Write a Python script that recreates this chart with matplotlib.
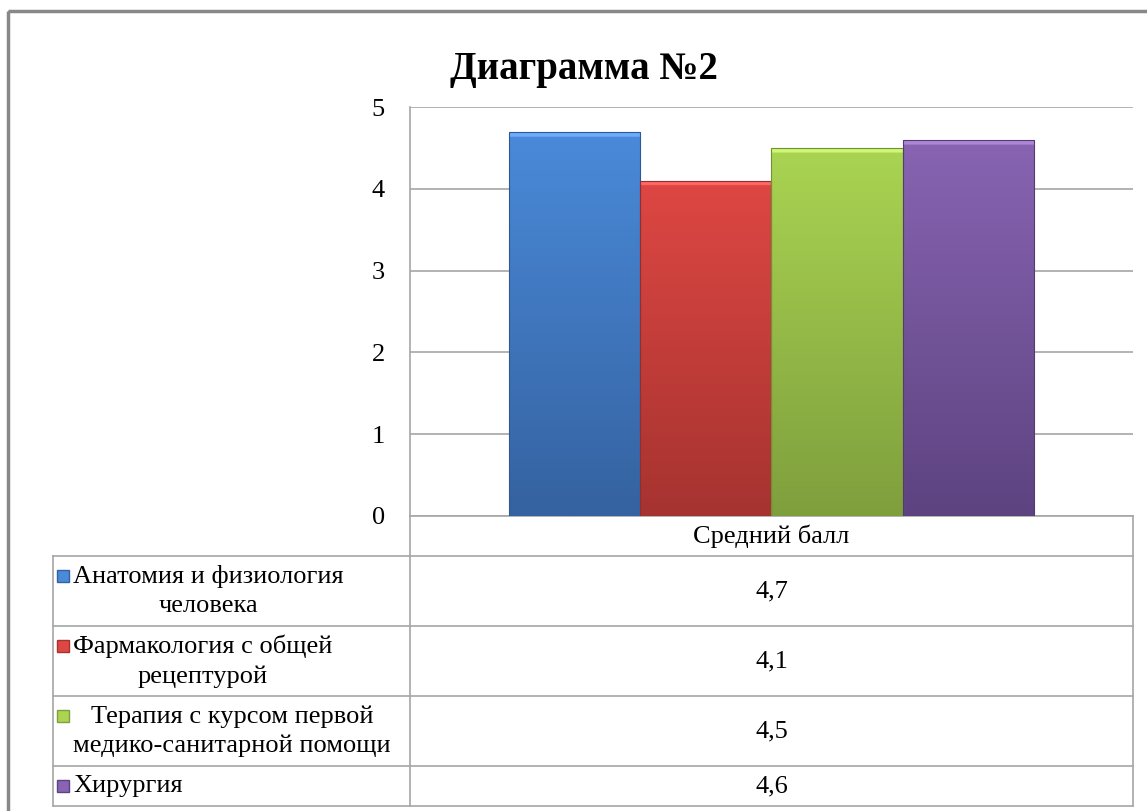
import numpy as np
import matplotlib
matplotlib.use("Agg")
import matplotlib.pyplot as plt
from matplotlib.patches import Rectangle
from matplotlib.colors import to_rgb

plt.rcParams['font.family'] = 'serif'
plt.rcParams['font.serif'] = ['Liberation Serif', 'FreeSerif', 'DejaVu Serif']

# data
title = "Диаграмма №2"
series_names = ["Анатомия и физиология\nчеловека",
                "Фармакология с общей\nрецептурой",
                "Терапия с курсом первой\nмедико-санитарной помощи",
                "Хирургия"]
values = [4.7, 4.1, 4.5, 4.6]
value_labels = ["4,7", "4,1", "4,5", "4,6"]
category = "Средний балл"
yticks = [0, 1, 2, 3, 4, 5]

# colours (top, bottom) of each bar
top_cols = ["#4a8ad9", "#de4743", "#aad452", "#8864b2"]
bot_cols = ["#3562a0", "#a63330", "#7f9f3d", "#5d4380"]

W, H = 1147, 811
fig = plt.figure(figsize=(W / 100, H / 100), dpi=100)

# pixel layout
ax_l, ax_r, ax_t, ax_b = 410, 1133, 107, 516
ax = fig.add_axes([ax_l / W, 1 - ax_b / H, (ax_r - ax_l) / W, (ax_b - ax_t) / H])

x = np.arange(len(values))
bars = ax.bar(x, values, width=1.0, color=top_cols, edgecolor='none', zorder=2)

# vertical gradient inside every bar
for b, c1, c2 in zip(bars, top_cols, bot_cols):
    c1, c2 = np.array(to_rgb(c1)), np.array(to_rgb(c2))
    t = np.linspace(0, 1, 200)[:, None]
    grad = (c1 * (1 - t) + c2 * t)[:, None, :]
    # lighter bevel at the top
    grad[:3] = np.clip(grad[:3] + 0.14, 0, 1)
    x0, y0 = b.get_x(), b.get_y()
    im = ax.imshow(grad, extent=[x0, x0 + b.get_width(), y0, y0 + b.get_height()],
                   aspect='auto', zorder=3, origin='upper')
    im.set_clip_path(b)
    ax.add_patch(Rectangle((x0, y0), b.get_width(), b.get_height(), fill=False,
                           edgecolor=c2 * 0.9, lw=0.8, zorder=4))

ax.set_xlim(-1.255, 4.255)
ax.set_ylim(0, 5)
ax.set_yticks(yticks)
ax.set_yticklabels([str(v) for v in yticks], fontsize=19)
ax.set_xticks([])
ax.tick_params(axis='y', length=0, pad=18)
ax.yaxis.grid(True, color='#a6a6a6', lw=1.2, zorder=0)
for s in ['top', 'right', 'bottom']:
    ax.spines[s].set_visible(False)
ax.spines['left'].set_color('#a6a6a6')
ax.spines['left'].set_linewidth(1.2)
ax.set_facecolor('none')

# overlay in pixel coords for frame, title and data table
ov = fig.add_axes([0, 0, 1, 1], zorder=-1)
ov.set_xlim(0, W)
ov.set_ylim(H, 0)
ov.axis('off')

ov.add_patch(Rectangle((8, 11), W + 20, H + 20, fill=False, edgecolor='#888888', lw=2.5))
ov.text(584, 70, title, ha='center', va='center', fontsize=28, fontweight='bold')

gc = '#a6a6a6'
tab_l = 53
rows = [516, 556, 626, 696, 766, 806]
ov.plot([ax_l, ax_l], [ax_b, rows[-1]], color=gc, lw=1.2)
ov.plot([ax_r, ax_r], [ax_b, rows[-1]], color=gc, lw=1.2)
ov.plot([tab_l, tab_l], [rows[1], rows[-1]], color=gc, lw=1.2)
ov.plot([ax_l, ax_r], [rows[0], rows[0]], color=gc, lw=1.2)
for yy in rows[1:]:
    ov.plot([tab_l, ax_r], [yy, yy], color=gc, lw=1.2)

mid = (ax_l + ax_r) / 2
ov.text(mid, (rows[0] + rows[1]) / 2, category, ha='center', va='center', fontsize=19)
for i, (name, vl) in enumerate(zip(series_names, value_labels)):
    yc = (rows[i + 1] + rows[i + 2]) / 2
    ov.text(mid, yc, vl, ha='center', va='center', fontsize=19)
    ov.text(73, yc, name, ha='left', va='center', fontsize=19,
            multialignment='center', linespacing=1.4)
    nlines = name.count('\n') + 1
    my = yc - 15 if nlines > 1 else yc
    ov.plot(63, my, marker='s', ms=8, color=top_cols[i], mec=bot_cols[i], mew=1)

fig.savefig("out.png", dpi=100)
